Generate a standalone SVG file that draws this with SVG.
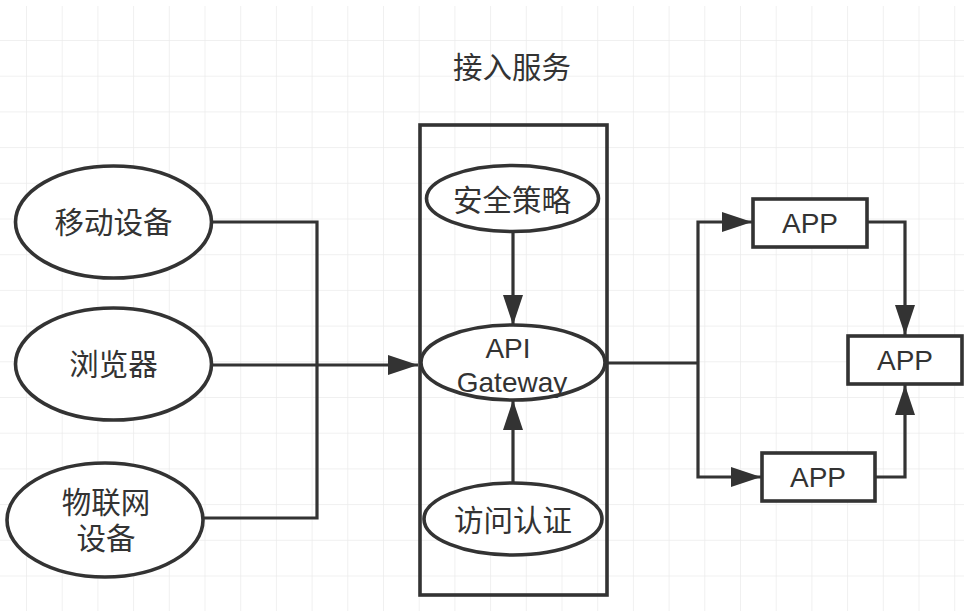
<svg xmlns="http://www.w3.org/2000/svg" width="964" height="611" viewBox="0 0 964 611">
<style>
.shape{fill:#fff;stroke:#333;stroke-width:3.6}
.conn{fill:none;stroke:#333;stroke-width:3.2}
.t{font-family:"Liberation Sans","Noto Sans CJK SC",sans-serif;font-size:29.5px;fill:#333;text-anchor:middle;dominant-baseline:central}
.lt{font-family:"Liberation Sans","Noto Sans CJK SC",sans-serif;font-size:28px;fill:#333;text-anchor:middle;dominant-baseline:central}
</style>
<defs>
<pattern id="grid" patternUnits="userSpaceOnUse" x="26" y="40" width="35.7" height="35.7">
<path d="M0 0V35.7M0 0H35.7" fill="none" stroke="#ebebeb" stroke-width="1.5"/>
</pattern>
<marker id="arr" viewBox="0 0 30 20" refX="30" refY="10" markerWidth="30" markerHeight="20" markerUnits="userSpaceOnUse" orient="auto">
<path d="M0 0L30 10L0 20Z" fill="#333"/>
</marker>
</defs>
<rect width="964" height="611" fill="#fff"/>
<rect x="0" y="6" width="964" height="605" fill="url(#grid)"/>

<g id="connectors">
<path class="conn" d="M212 222H317V518H203"/>
<path class="conn" d="M212 365H418" marker-end="url(#arr)"/>
<path class="conn" d="M513 232V325" marker-end="url(#arr)"/>
<path class="conn" d="M513 483V400" marker-end="url(#arr)"/>
<path class="conn" d="M605 363H698"/>
<path class="conn" d="M698 363V222H752" marker-end="url(#arr)"/>
<path class="conn" d="M698 363V477H761" marker-end="url(#arr)"/>
<path class="conn" d="M867 222H905V335" marker-end="url(#arr)"/>
<path class="conn" d="M875 477H905V385" marker-end="url(#arr)"/>
</g>

<g id="title"><text class="t" x="512" y="67">接入服务</text></g>

<g id="container"><rect x="420" y="125" width="187" height="470" fill="none" stroke="#333" stroke-width="3.6"/></g>

<g id="mobile"><ellipse class="shape" cx="113.5" cy="222" rx="98" ry="56"/><text class="t" x="113.5" y="222">移动设备</text></g>
<g id="browser"><ellipse class="shape" cx="113.5" cy="364" rx="98" ry="56"/><text class="t" x="113.5" y="364">浏览器</text></g>
<g id="iot"><ellipse class="shape" cx="105" cy="520" rx="98" ry="57"/><text class="t" x="106" y="502">物联网</text><text class="t" x="106" y="538">设备</text></g>

<g id="security"><ellipse class="shape" cx="512.5" cy="198.5" rx="86" ry="33"/><text class="t" x="512" y="200">安全策略</text></g>
<g id="gateway"><ellipse class="shape" cx="513" cy="362.5" rx="92" ry="37.5"/><text class="lt" x="508" y="348">API</text><text class="lt" x="512" y="382">Gateway</text></g>
<g id="auth"><ellipse class="shape" cx="513" cy="519" rx="89" ry="36"/><text class="t" x="513" y="520">访问认证</text></g>

<g id="app1"><rect class="shape" x="753" y="199" width="114" height="48"/><text class="lt" x="810" y="223">APP</text></g>
<g id="app2"><rect class="shape" x="848" y="336" width="114" height="48"/><text class="lt" x="905" y="360">APP</text></g>
<g id="app3"><rect class="shape" x="762" y="453" width="113" height="48"/><text class="lt" x="818" y="477">APP</text></g>
</svg>
